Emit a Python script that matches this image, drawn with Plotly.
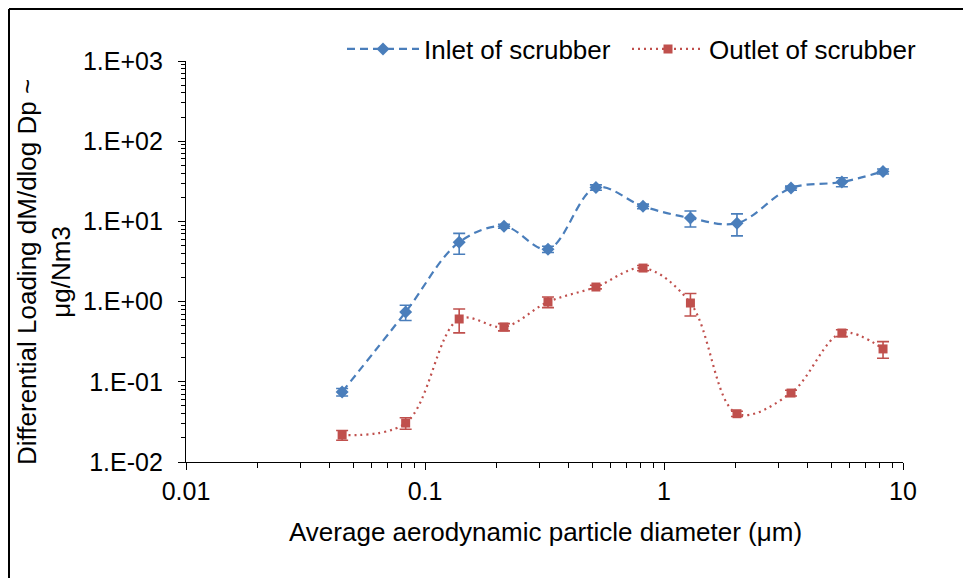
import plotly.graph_objects as go

# Data
diameter_um = [0.045, 0.083, 0.139, 0.214, 0.327, 0.519, 0.817, 1.29, 2.02, 3.40, 5.55, 8.25]

inlet_values = [0.0746, 0.741, 5.5, 8.7, 4.5, 26.5, 15.4, 11.0, 9.5, 26.0, 31.0, 42.0]
inlet_errors = [0.008, 0.16, 1.6, 0.5, 0.4, 2.0, 1.0, 2.5, 2.9, 1.5, 4.0, 3.0]

outlet_values = [0.0217, 0.0306, 0.607, 0.482, 0.99, 1.52, 2.62, 0.96, 0.0400, 0.0724, 0.406, 0.257]
outlet_errors = [0.003, 0.005, 0.2, 0.05, 0.15, 0.08, 0.2, 0.3, 0.003, 0.006, 0.04, 0.06]

x_tick_vals = [0.01, 0.1, 1, 10]
x_tick_text = ["0.01", "0.1", "1", "10"]
y_tick_vals = [0.01, 0.1, 1, 10, 100, 1000]
y_tick_text = ["1.E-02", "1.E-01", "1.E+00", "1.E+01", "1.E+02", "1.E+03"]

inlet_name = "Inlet of scrubber"
outlet_name = "Outlet of scrubber"
x_title = "Average aerodynamic particle diameter (μm)"
y_title = "Differential Loading dM/dlog Dp ~<br>μg/Nm3"

BLUE = "#4A7EBB"
RED = "#C0504D"
FONT = "Liberation Sans, Arial, sans-serif"
FS_TICK = 25
FS = 26

x_minor = [m * 10 ** k for k in (-2, -1, 0) for m in range(2, 10)]
y_minor = [m * 10 ** k for k in (-2, -1, 0, 1, 2) for m in range(2, 10)]

fig = go.Figure()
fig.add_trace(go.Scatter(
    x=diameter_um, y=inlet_values, name=inlet_name, mode="lines+markers", legend="legend",
    line=dict(color=BLUE, width=2.2, dash="8px,5px", shape="spline", smoothing=1.0),
    marker=dict(symbol="diamond", size=10, color=BLUE),
    error_y=dict(type="data", array=inlet_errors, visible=True, color=BLUE, thickness=1.6, width=6),
))
fig.add_trace(go.Scatter(
    x=diameter_um, y=outlet_values, name=outlet_name, mode="lines+markers", legend="legend2",
    line=dict(color=RED, width=2.2, dash="2px,4px", shape="spline", smoothing=1.0),
    marker=dict(symbol="square", size=9, color=RED),
    error_y=dict(type="data", array=outlet_errors, visible=True, color=RED, thickness=1.6, width=6),
))

OFF = 8  # page body margin
W, H = 971 - OFF, 578 - OFF
# plot area in page pixels: x 186..903, y 61..462
L, T = 186 - OFF, 61 - OFF
R = W - (903 - OFF)
B = H - (462 - OFF)
pw, ph = W - L - R, H - T - B

def px_x(p):
    return (p - OFF - L) / pw

def px_y(p):
    return (H - B - (p - OFF)) / ph

legend_common = dict(orientation="h", yanchor="middle", xanchor="left", font=dict(size=FS),
                     itemwidth=72, bgcolor="rgba(0,0,0,0)")

fig.update_layout(
    width=W, height=H,
    margin=dict(l=L, r=R, t=T, b=B),
    paper_bgcolor="white", plot_bgcolor="white",
    font=dict(family=FONT, size=FS, color="#000000"),
    showlegend=True,
    legend=dict(x=px_x(342), y=px_y(49), **legend_common),
    legend2=dict(x=px_x(627), y=px_y(49), **legend_common),
    xaxis=dict(type="log", range=[-2, 1], showgrid=False, zeroline=False,
               showline=True, linecolor="black", linewidth=1.3,
               ticks="outside", ticklen=7, tickwidth=1.3, tickcolor="black",
               tickvals=x_tick_vals, ticktext=x_tick_text,
               minor=dict(tickvals=x_minor, ticks="outside", ticklen=5, tickwidth=1.3, tickcolor="black", showgrid=False),
               tickfont=dict(size=FS_TICK)),
    yaxis=dict(type="log", range=[-2, 3], showgrid=False, zeroline=False,
               showline=True, linecolor="black", linewidth=1.3,
               ticks="outside", ticklen=7, tickwidth=1.3, tickcolor="black",
               tickvals=y_tick_vals, ticktext=y_tick_text,
               minor=dict(tickvals=y_minor, ticks="outside", ticklen=4, tickwidth=1.3, tickcolor="black", showgrid=False),
               tickfont=dict(size=FS_TICK), ticklabelstandoff=10),
    annotations=[
        dict(text=x_title, xref="paper", yref="paper", x=px_x(545), y=px_y(532),
             xanchor="center", yanchor="middle", showarrow=False, font=dict(size=FS)),
        dict(text=y_title, xref="paper", yref="paper", x=px_x(44), y=px_y(272),
             xanchor="center", yanchor="middle", showarrow=False, textangle=-90,
             font=dict(size=FS)),
    ],
    shapes=[
        dict(type="line", xref="paper", yref="paper", x0=px_x(9), x1=px_x(990), y0=px_y(9), y1=px_y(9),
             line=dict(color="black", width=2)),
        dict(type="line", xref="paper", yref="paper", x0=px_x(9), x1=px_x(9), y0=px_y(9), y1=px_y(600),
             line=dict(color="black", width=2)),
    ],
)

fig.write_html("out.html")
